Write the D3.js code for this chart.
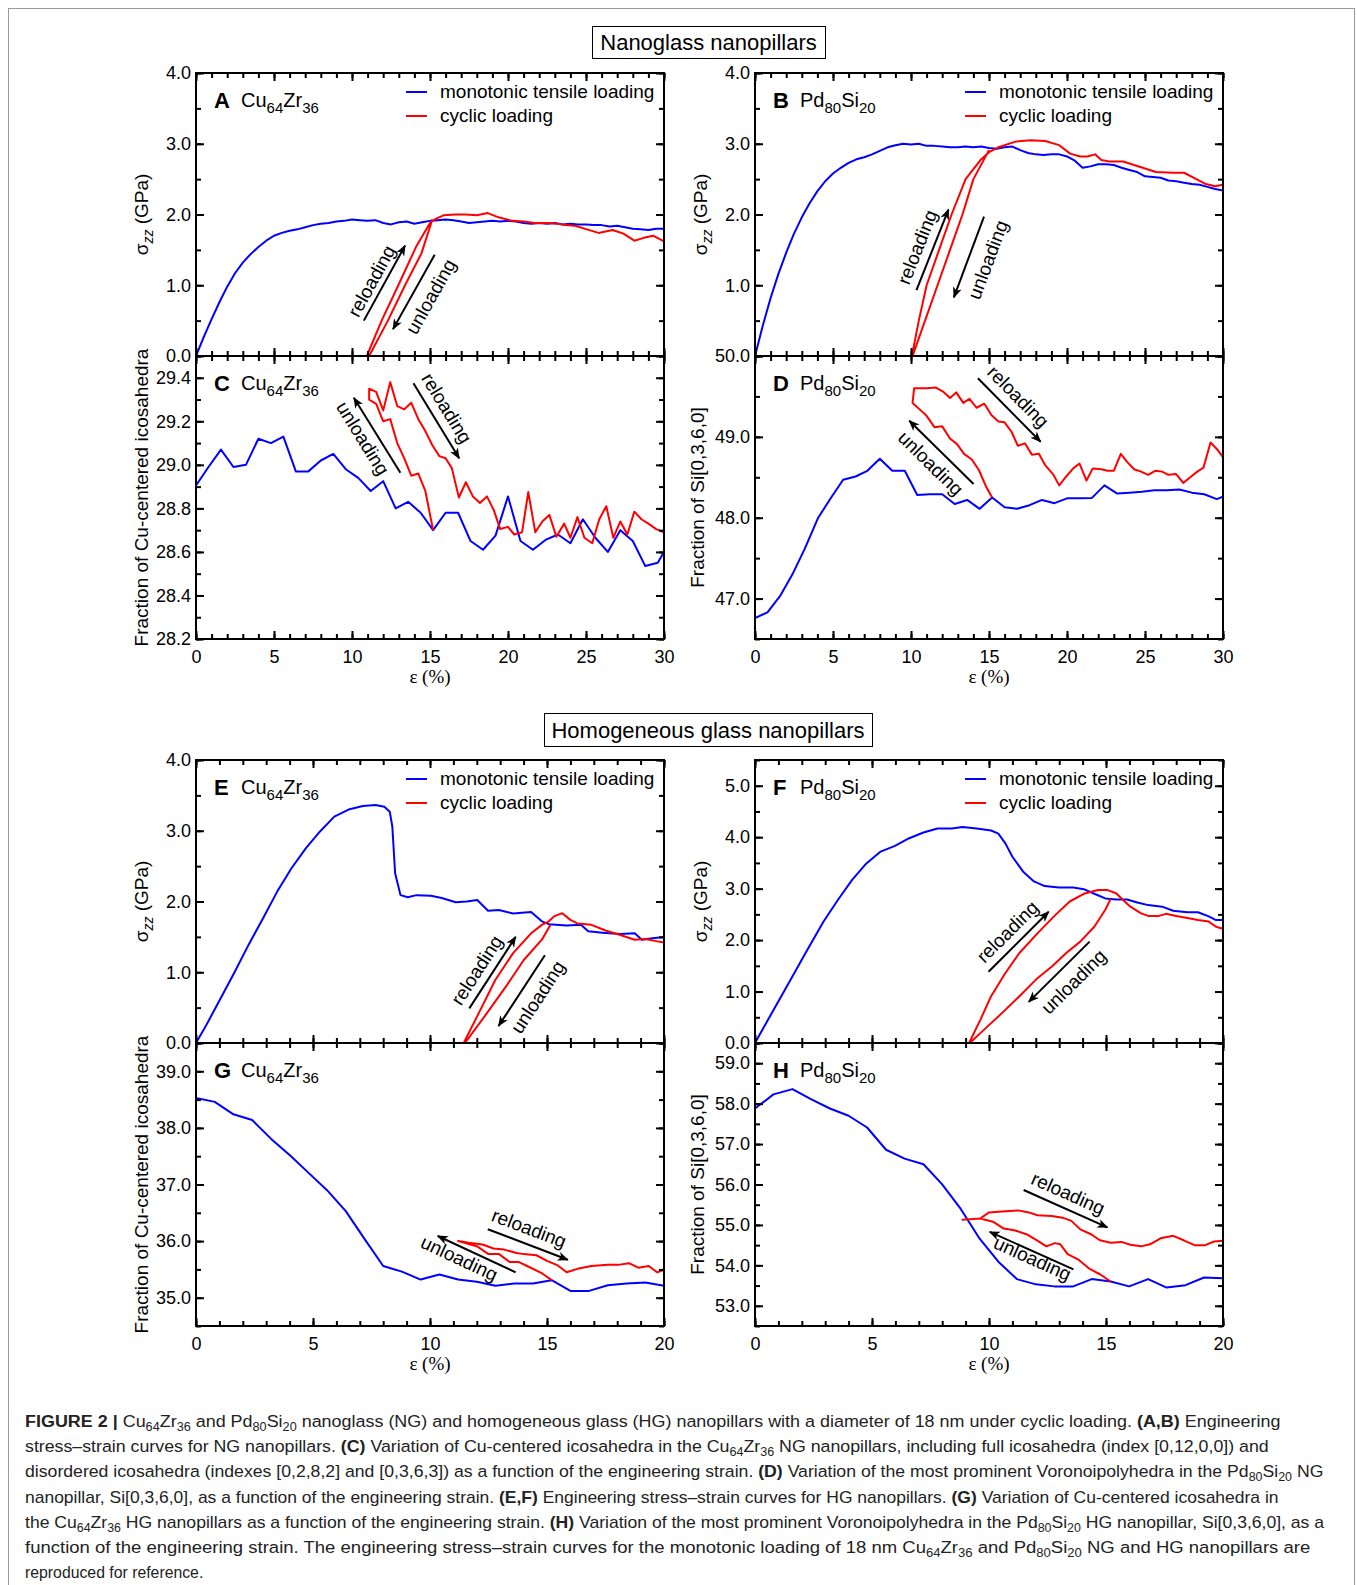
<!DOCTYPE html>
<html>
<head>
<meta charset="utf-8">
<script src="https://cdn.jsdelivr.net/npm/d3@7"></script>
<style>
body { margin: 0; background: #fff; }
svg { display: block; font-family: "Liberation Sans", Arial, sans-serif; }
</style>
</head>
<body>
<svg id="fig" width="1357" height="1585"></svg>
<script>
// ---- tick labels ----
var xTicks30 = [0, 5, 10, 15, 20, 25, 30];
var xTicks20 = [0, 5, 10, 15, 20];
var stressTicks = [0, 1, 2, 3, 4];
var stressTicksF = [0, 1, 2, 3, 4, 5];
var cTicks = [28.2, 28.4, 28.6, 28.8, 29.0, 29.2, 29.4];
var dTicks = [47, 48, 49, 50];
var gTicks = [35, 36, 37, 38, 39];
var hTicks = [53, 54, 55, 56, 57, 58, 59];

// ---- series: [strain %, value] ----
var aMono = [[0,0],[0.5,0.27],[1,0.52],[1.5,0.76],[2,0.98],[2.5,1.17],[3,1.32],[3.5,1.44],[4,1.54],[4.5,1.63],[5,1.70],[5.5,1.74],[6,1.77],[6.5,1.79],[7,1.82],[7.5,1.85],[8,1.87],[8.5,1.88],[9,1.90],[9.5,1.91],[10,1.93],[10.5,1.92],[11,1.91],[11.5,1.92],[12,1.88],[12.5,1.86],[13,1.89],[13.5,1.90],[14,1.87],[14.5,1.89],[15,1.91],[15.5,1.92],[16,1.93],[16.5,1.92],[17,1.90],[17.5,1.88],[18,1.89],[18.5,1.90],[19,1.91],[19.5,1.90],[20,1.91],[20.5,1.90],[21,1.88],[21.5,1.87],[22,1.88],[22.5,1.87],[23,1.88],[23.5,1.86],[24,1.87],[24.5,1.86],[25,1.86],[25.5,1.85],[26,1.85],[26.5,1.83],[27,1.84],[27.5,1.82],[28,1.80],[28.5,1.79],[29,1.78],[29.5,1.80],[30,1.80]];
var aCyclic = [[15.15,1.93],[14.45,1.45],[13.4,1.0],[12.3,0.5],[11.1,0],[10.95,0],[11.9,0.5],[12.97,1.0],[14.1,1.54],[15.0,1.88],[15.3,1.93],[15.9,1.99],[16.6,2.0],[17.3,2.0],[18,1.99],[18.7,2.02],[19.4,1.96],[20.3,1.91],[21,1.90],[21.7,1.88],[22.5,1.88],[23.2,1.87],[23.7,1.85],[24.3,1.84],[24.9,1.80],[25.8,1.74],[26.7,1.78],[27.4,1.73],[28.1,1.63],[28.7,1.67],[29.3,1.70],[30,1.62]];

var bMono = [[0,0],[0.5,0.43],[1,0.82],[1.5,1.16],[2,1.46],[2.5,1.73],[3,1.96],[3.5,2.16],[4,2.33],[4.5,2.47],[5,2.58],[5.5,2.66],[6,2.73],[6.5,2.78],[7,2.81],[7.5,2.85],[8,2.90],[8.5,2.95],[9,2.98],[9.5,3.00],[10,2.99],[10.5,3.00],[11,2.97],[11.5,2.97],[12,2.96],[12.5,2.95],[13,2.95],[13.5,2.96],[14,2.95],[14.5,2.96],[15,2.94],[15.5,2.93],[16,2.95],[16.5,2.96],[17,2.91],[17.5,2.87],[18,2.85],[18.5,2.84],[19,2.85],[19.5,2.85],[20,2.82],[20.5,2.76],[21,2.66],[21.5,2.68],[22,2.71],[22.5,2.71],[23,2.70],[23.5,2.66],[24,2.63],[24.5,2.60],[25,2.54],[25.5,2.53],[26,2.52],[26.5,2.48],[27,2.47],[27.5,2.45],[28,2.43],[28.5,2.42],[29,2.39],[29.5,2.36],[30,2.34]];
var bCyclic = [[15.0,2.91],[14.0,2.50],[13.3,2.0],[12.5,1.5],[11.7,1.0],[10.9,0.5],[10.1,0],[10.06,0],[10.5,0.5],[11.0,1.0],[11.8,1.5],[12.6,2.0],[13.5,2.5],[14.45,2.77],[15.0,2.88],[15.6,2.95],[16.7,3.03],[17.65,3.05],[18.6,3.04],[19.5,2.98],[20.2,2.86],[20.85,2.82],[21.3,2.82],[21.8,2.85],[22.2,2.77],[22.7,2.75],[23.6,2.75],[24.3,2.70],[25,2.65],[25.7,2.60],[26.8,2.59],[27.5,2.59],[28.2,2.51],[28.9,2.43],[29.5,2.40],[30,2.42]];

var cMono = [[0,28.905],[0.8,28.99],[1.6,29.07],[2.4,28.99],[3.2,29.0],[4.0,29.12],[4.8,29.10],[5.6,29.13],[6.4,28.97],[7.2,28.97],[8.0,29.02],[8.8,29.05],[9.6,28.98],[10.4,28.94],[11.2,28.88],[12.0,28.925],[12.8,28.80],[13.6,28.83],[14.4,28.78],[15.2,28.70],[16.0,28.78],[16.8,28.78],[17.6,28.65],[18.4,28.61],[19.2,28.675],[20.0,28.855],[20.8,28.65],[21.6,28.61],[22.4,28.655],[23.2,28.68],[24.0,28.64],[24.8,28.75],[25.6,28.665],[26.4,28.60],[27.2,28.70],[28.0,28.65],[28.8,28.535],[29.6,28.55],[30,28.60]];
var cCyclic = [[15.2,28.70],[14.7,28.88],[14.25,28.96],[13.8,28.95],[13.35,29.03],[12.9,29.10],[12.45,29.21],[12.0,29.20],[11.55,29.28],[11.1,29.30],[11.1,29.35],[11.55,29.335],[12.0,29.25],[12.45,29.38],[12.9,29.27],[13.35,29.255],[13.8,29.285],[14.25,29.21],[14.7,29.155],[15.15,29.09],[15.6,29.04],[16.0,29.03],[16.4,28.985],[16.85,28.85],[17.3,28.92],[17.75,28.855],[18.2,28.825],[18.65,28.855],[19.1,28.79],[19.5,28.705],[20.0,28.715],[20.4,28.68],[20.9,28.69],[21.3,28.875],[21.75,28.69],[22.2,28.74],[22.65,28.77],[23.1,28.67],[23.6,28.73],[24.0,28.665],[24.45,28.76],[24.9,28.665],[25.4,28.64],[25.85,28.75],[26.3,28.81],[26.75,28.665],[27.2,28.74],[27.65,28.68],[28.1,28.785],[28.55,28.75],[29.0,28.73],[29.5,28.705],[30,28.69]];

var dMono = [[0,46.76],[0.8,46.83],[1.6,47.03],[2.4,47.30],[3.2,47.62],[4.05,48.0],[4.85,48.24],[5.65,48.47],[6.45,48.51],[7.2,48.58],[8.0,48.73],[8.8,48.58],[9.6,48.58],[10.4,48.28],[11.2,48.29],[12.0,48.29],[12.8,48.17],[13.6,48.22],[14.4,48.11],[15.2,48.25],[16.0,48.13],[16.8,48.11],[17.6,48.155],[18.4,48.22],[19.2,48.18],[20.0,48.24],[20.8,48.24],[21.6,48.245],[22.4,48.40],[23.2,48.30],[24.0,48.31],[24.8,48.32],[25.6,48.34],[26.4,48.34],[27.2,48.35],[28.0,48.31],[28.8,48.29],[29.6,48.23],[30,48.26]];
var dCyclic = [[15.2,48.25],[14.8,48.39],[14.35,48.59],[13.9,48.72],[13.4,48.79],[12.95,48.91],[12.5,48.98],[12.0,49.13],[11.5,49.12],[11.0,49.26],[10.55,49.34],[10.1,49.42],[10.2,49.60],[11.0,49.60],[11.6,49.61],[12.05,49.56],[12.5,49.48],[12.9,49.55],[13.35,49.42],[13.75,49.47],[14.2,49.36],[14.7,49.41],[15.15,49.27],[15.6,49.19],[16.0,49.18],[16.45,49.06],[16.85,48.89],[17.3,48.92],[17.75,48.78],[18.2,48.79],[18.6,48.65],[19.1,48.54],[19.5,48.40],[19.95,48.51],[20.4,48.61],[20.8,48.67],[21.25,48.46],[21.65,48.61],[22.2,48.60],[22.6,48.58],[23.0,48.58],[23.45,48.79],[23.85,48.69],[24.3,48.60],[24.75,48.57],[25.2,48.53],[25.65,48.58],[26.1,48.57],[26.5,48.53],[27.0,48.54],[27.45,48.43],[27.9,48.50],[28.35,48.57],[28.75,48.62],[29.2,48.93],[29.65,48.84],[30,48.75]];

var eMono = [[0,0],[0.41,0.235],[1.02,0.61],[1.63,0.99],[2.25,1.39],[2.86,1.76],[3.47,2.14],[4.08,2.47],[4.69,2.75],[5.3,2.99],[5.91,3.20],[6.52,3.30],[7.13,3.35],[7.67,3.365],[8.05,3.34],[8.28,3.27],[8.39,3.06],[8.51,2.40],[8.74,2.09],[9.05,2.06],[9.43,2.09],[10.04,2.08],[10.5,2.05],[11.1,1.99],[11.57,2.0],[12.02,2.02],[12.48,1.87],[12.94,1.88],[13.55,1.83],[14.32,1.85],[14.78,1.72],[15.08,1.68],[15.84,1.66],[16.45,1.67],[16.76,1.58],[17.37,1.56],[18.13,1.54],[18.75,1.55],[19.05,1.46],[19.51,1.48],[20,1.50]];
var eCyclic = [[15.15,1.67],[14.78,1.46],[14.0,1.17],[13.25,0.80],[12.34,0.38],[11.49,0],[11.44,0],[12.02,0.38],[12.79,0.89],[13.55,1.27],[14.32,1.55],[14.78,1.67],[15.08,1.72],[15.3,1.79],[15.65,1.835],[16.0,1.74],[16.3,1.69],[16.9,1.67],[17.5,1.59],[18.1,1.53],[18.75,1.46],[19.2,1.47],[19.66,1.44],[20,1.42]];

var fMono = [[0,0],[0.64,0.52],[1.4,1.13],[2.16,1.75],[2.93,2.36],[3.54,2.78],[4.15,3.17],[4.76,3.49],[5.37,3.72],[5.98,3.83],[6.59,3.98],[7.2,4.09],[7.8,4.17],[8.41,4.17],[8.87,4.20],[9.48,4.17],[10.09,4.13],[10.4,4.07],[10.7,3.88],[11.0,3.62],[11.46,3.33],[11.92,3.14],[12.38,3.05],[12.99,3.02],[13.6,3.02],[14.05,2.99],[14.5,2.90],[14.97,2.81],[15.43,2.79],[15.9,2.79],[16.34,2.73],[16.8,2.68],[17.4,2.65],[17.87,2.57],[18.48,2.54],[18.93,2.54],[19.39,2.46],[19.7,2.39],[20,2.39]];
var fCyclic = [[15.2,2.80],[14.97,2.59],[14.5,2.26],[13.9,1.97],[13.3,1.75],[12.7,1.49],[12.07,1.26],[11.3,0.91],[10.55,0.58],[9.79,0.26],[9.18,0],[9.15,0],[9.63,0.45],[10.09,0.91],[10.7,1.36],[11.3,1.75],[12.07,2.13],[12.84,2.49],[13.45,2.75],[14.05,2.90],[14.66,2.975],[15.04,2.975],[15.43,2.91],[15.73,2.78],[16.04,2.65],[16.5,2.52],[16.8,2.47],[17.26,2.47],[17.56,2.51],[18.0,2.47],[18.48,2.43],[18.93,2.39],[19.39,2.36],[19.7,2.26],[20,2.22]];

var gMono = [[0,38.53],[0.8,38.46],[1.6,38.24],[2.4,38.14],[3.2,37.81],[4.0,37.52],[4.8,37.21],[5.6,36.90],[6.4,36.53],[7.2,36.04],[8.0,35.56],[8.8,35.46],[9.6,35.32],[10.4,35.41],[11.2,35.32],[12.0,35.28],[12.8,35.21],[13.6,35.25],[14.4,35.25],[15.2,35.31],[16.0,35.12],[16.8,35.12],[17.6,35.22],[18.4,35.25],[19.2,35.27],[20,35.21]];
var gCyclic = [[15.2,35.31],[14.75,35.44],[14.15,35.56],[13.8,35.63],[13.4,35.63],[12.95,35.77],[12.5,35.77],[12.0,35.91],[11.2,36.0],[11.65,35.97],[12.25,35.94],[12.71,35.87],[13.17,35.85],[13.7,35.79],[14.0,35.77],[14.55,35.75],[15.0,35.65],[15.46,35.57],[15.84,35.45],[16.3,35.51],[16.9,35.56],[17.6,35.58],[18.04,35.58],[18.5,35.61],[18.9,35.53],[19.35,35.56],[19.7,35.45],[20,35.49]];

var hMono = [[0,57.88],[0.79,58.23],[1.6,58.36],[2.39,58.11],[3.2,57.88],[4.0,57.70],[4.79,57.41],[5.6,56.86],[6.39,56.64],[7.2,56.50],[7.99,56.01],[8.8,55.39],[9.6,54.66],[10.4,54.09],[11.19,53.66],[12.0,53.53],[12.79,53.48],[13.6,53.48],[14.39,53.66],[15.2,53.60],[15.99,53.48],[16.8,53.66],[17.59,53.45],[18.4,53.51],[19.19,53.70],[20,53.68]];
var hCyclic = [[15.2,53.60],[14.74,53.78],[14.28,53.92],[13.8,54.15],[13.36,54.28],[13.05,54.52],[12.82,54.55],[12.45,54.47],[12.07,54.61],[11.6,54.77],[11.08,54.87],[10.63,54.91],[10.17,55.08],[9.63,55.16],[8.87,55.13],[9.63,55.16],[10.0,55.31],[10.55,55.33],[11.24,55.36],[11.7,55.31],[12.07,55.24],[12.68,55.22],[13.14,55.18],[13.52,55.10],[13.9,54.89],[14.36,54.77],[14.74,54.62],[15.2,54.56],[15.66,54.58],[16.04,54.51],[16.5,54.47],[16.88,54.52],[17.33,54.67],[17.87,54.73],[18.32,54.62],[18.78,54.50],[19.24,54.50],[19.62,54.59],[20,54.61]];

// ---- arrow notes, in data units ----
var aNotes = [{label: 'reloading', from: [10.76, 0.50], to: [13.4, 1.56], at: [11.26, 1.06]},
              {label: 'unloading', from: [15.3, 1.43], to: [12.63, 0.38], at: [15.05, 0.84]}];
var bNotes = [{label: 'reloading', from: [10.35, 0.93], to: [12.4, 2.07], at: [10.4, 1.54]},
              {label: 'unloading', from: [14.68, 1.97], to: [12.75, 0.83], at: [14.93, 1.36]}];
var cNotes = [{label: 'unloading', from: [13.1, 28.964], to: [10.12, 29.308], at: [10.69, 29.122]},
              {label: 'reloading', from: [13.94, 29.375], to: [16.87, 29.03], at: [16.07, 29.26]}];
var dNotes = [{label: 'reloading', from: [14.29, 49.724], to: [18.31, 48.94], at: [16.87, 49.497]},
              {label: 'unloading', from: [14.01, 48.417], to: [9.89, 49.2], at: [11.26, 48.673]}];
var eNotes = [{label: 'reloading', from: [11.68, 0.49], to: [13.66, 1.50], at: [12.0, 1.03]},
              {label: 'unloading', from: [14.91, 1.24], to: [12.93, 0.24], at: [14.61, 0.65]}];
var fNotes = [{label: 'reloading', from: [9.98, 1.386], to: [12.55, 2.55], at: [10.79, 2.16]},
              {label: 'unloading', from: [14.3, 1.97], to: [11.7, 0.80], at: [13.62, 1.19]}];
var gNotes = [{label: 'reloading', from: [12.47, 36.21], to: [15.89, 35.67], at: [14.23, 36.226]},
              {label: 'unloading', from: [13.66, 35.449], to: [10.33, 36.09], at: [11.25, 35.696]}];
var hNotes = [{label: 'reloading', from: [11.48, 55.864], to: [15.06, 54.94], at: [13.38, 55.78]},
              {label: 'unloading', from: [13.61, 53.90], to: [10.03, 54.83], at: [11.86, 54.17]}];

var captionLines = [
    '**FIGURE 2 |** Cu_{64}Zr_{36} and Pd_{80}Si_{20} nanoglass (NG) and homogeneous glass (HG) nanopillars with a diameter of 18 nm under cyclic loading. **(A,B)** Engineering',
    'stress–strain curves for NG nanopillars. **(C)** Variation of Cu-centered icosahedra in the Cu_{64}Zr_{36} NG nanopillars, including full icosahedra (index [0,12,0,0]) and',
    'disordered icosahedra (indexes [0,2,8,2] and [0,3,6,3]) as a function of the engineering strain. **(D)** Variation of the most prominent Voronoipolyhedra in the Pd_{80}Si_{20} NG',
    'nanopillar, Si[0,3,6,0], as a function of the engineering strain. **(E,F)** Engineering stress–strain curves for HG nanopillars. **(G)** Variation of Cu-centered icosahedra in',
    'the Cu_{64}Zr_{36} HG nanopillars as a function of the engineering strain. **(H)** Variation of the most prominent Voronoipolyhedra in the Pd_{80}Si_{20} HG nanopillar, Si[0,3,6,0], as a',
    'function of the engineering strain. The engineering stress–strain curves for the monotonic loading of 18 nm Cu_{64}Zr_{36} and Pd_{80}Si_{20} NG and HG nanopillars are',
    'reproduced for reference.'
];
var captionWidths = [1256, 1245, 1299, 1254, 1300, 1286, 0];

// ---- layout ----
var W = 468, H = 283;
var SANS = '"Liberation Sans", Arial, sans-serif';

// skipFirst: the lowest y label sits exactly under the "50.0" of the panel below
var panels = [
    {id: 'A', alloy: 'Cu_{64}Zr_{36}', left: 196, top: 73, xMax: 30, xTicks: xTicks30, yDom: [0, 4], yTicks: stressTicks, yMinor: 0.5,
        mono: aMono, cyc: aCyclic, notes: aNotes, legend: true, xLabels: false, yTitle: 'sigma', titleGap: 48},
    {id: 'B', alloy: 'Pd_{80}Si_{20}', left: 755, top: 73, xMax: 30, xTicks: xTicks30, yDom: [0, 4], yTicks: stressTicks, yMinor: 0.5,
        mono: bMono, cyc: bCyclic, notes: bNotes, legend: true, xLabels: false, yTitle: 'sigma', titleGap: 48, skipFirst: true},
    {id: 'C', alloy: 'Cu_{64}Zr_{36}', left: 196, top: 356, xMax: 30, xTicks: xTicks30, yDom: [28.2, 29.5], yTicks: cTicks, yMinor: 0.1,
        mono: cMono, cyc: cCyclic, notes: cNotes, legend: false, xLabels: true, yTitle: 'Fraction of Cu-centered icosahedra', titleGap: 48},
    {id: 'D', alloy: 'Pd_{80}Si_{20}', left: 755, top: 356, xMax: 30, xTicks: xTicks30, yDom: [46.5, 50], yTicks: dTicks, yMinor: 0.5,
        mono: dMono, cyc: dCyclic, notes: dNotes, legend: false, xLabels: true, yTitle: 'Fraction of Si[0,3,6,0]', titleGap: 51},
    {id: 'E', alloy: 'Cu_{64}Zr_{36}', left: 196, top: 760, xMax: 20, xTicks: xTicks20, yDom: [0, 4], yTicks: stressTicks, yMinor: 0.5,
        mono: eMono, cyc: eCyclic, notes: eNotes, legend: true, xLabels: false, yTitle: 'sigma', titleGap: 48},
    {id: 'F', alloy: 'Pd_{80}Si_{20}', left: 755, top: 760, xMax: 20, xTicks: xTicks20, yDom: [0, 5.5], yTicks: stressTicksF, yMinor: 0.5,
        mono: fMono, cyc: fCyclic, notes: fNotes, legend: true, xLabels: false, yTitle: 'sigma', titleGap: 48},
    {id: 'G', alloy: 'Cu_{64}Zr_{36}', left: 196, top: 1043, xMax: 20, xTicks: xTicks20, yDom: [34.5, 39.5], yTicks: gTicks, yMinor: 0.5,
        mono: gMono, cyc: gCyclic, notes: gNotes, legend: false, xLabels: true, yTitle: 'Fraction of Cu-centered icosahedra', titleGap: 48},
    {id: 'H', alloy: 'Pd_{80}Si_{20}', left: 755, top: 1043, xMax: 20, xTicks: xTicks20, yDom: [52.5, 59.5], yTicks: hTicks, yMinor: 0.5,
        mono: hMono, cyc: hCyclic, notes: hNotes, legend: false, xLabels: true, yTitle: 'Fraction of Si[0,3,6,0]', titleGap: 51}
];

var svg = d3.select('#fig');

// text with **bold** and _{sub} pieces
function rich(sel, str, subSize, subDy) {
    var parts = str.split(/(\*\*[^*]+\*\*|_\{[^}]+\})/);
    var shifted = false;
    parts.forEach(function (p) {
        if (!p) return;
        var t = sel.append('tspan');
        if (p.indexOf('**') === 0) {
            t.text(p.slice(2, -2)).attr('font-weight', 'bold');
        } else if (p.indexOf('_{') === 0) {
            t.text(p.slice(2, -1)).attr('font-size', subSize).attr('dy', shifted ? 0 : subDy);
            shifted = true;
            return;
        } else {
            t.text(p);
        }
        if (shifted) {
            t.attr('dy', -subDy);
            shifted = false;
        }
    });
}

// outer frame
svg.append('rect')
    .attr('x', 8.5).attr('y', 8.5)
    .attr('width', 1346).attr('height', 1600)
    .attr('fill', 'none').attr('stroke', '#999').attr('stroke-width', 1);

// arrow marker
svg.append('defs').append('marker')
    .attr('id', 'arrow')
    .attr('viewBox', '-12 -6 14 12')
    .attr('refX', 0).attr('refY', 0)
    .attr('markerWidth', 14).attr('markerHeight', 12)
    .attr('markerUnits', 'userSpaceOnUse')
    .attr('orient', 'auto')
    .append('path')
    .attr('d', 'M1,0 L-10,-4.5 L-7,0 L-10,4.5 Z')
    .attr('fill', '#000');

// section titles
[{text: 'Nanoglass nanopillars', x: 592, y: 26, w: 233, h: 32},
 {text: 'Homogeneous glass nanopillars', x: 544, y: 713, w: 328, h: 33}].forEach(function (b) {
    svg.append('rect')
        .attr('x', b.x + 0.5).attr('y', b.y + 0.5)
        .attr('width', b.w).attr('height', b.h)
        .attr('fill', '#fff').attr('stroke', '#000').attr('stroke-width', 1);
    svg.append('text')
        .attr('x', b.x + b.w / 2).attr('y', b.y + b.h - 8)
        .attr('text-anchor', 'middle')
        .attr('font-size', 22)
        .attr('fill', '#000')
        .text(b.text);
});

function styleAxis(a) {
    a.select('.domain').remove();
    a.selectAll('line').attr('stroke', '#000').attr('stroke-width', 2);
    a.attr('font-size', 18).attr('font-family', SANS);
    a.selectAll('text').attr('fill', '#000');
}

panels.forEach(function (p) {
    var x = d3.scaleLinear().domain([0, p.xMax]).range([0, W]);
    var y = d3.scaleLinear().domain(p.yDom).range([H, 0]);
    var g = svg.append('g').attr('transform', 'translate(' + p.left + ',' + p.top + ')');

    g.append('clipPath').attr('id', 'clip' + p.id)
        .append('rect').attr('width', W).attr('height', H);

    var line = d3.line()
        .x(function (d) { return x(d[0]); })
        .y(function (d) { return y(d[1]); });

    var plot = g.append('g').attr('clip-path', 'url(#clip' + p.id + ')');
    plot.append('path').datum(p.mono)
        .attr('d', line).attr('fill', 'none')
        .attr('stroke', '#0000ff').attr('stroke-width', 2)
        .attr('stroke-linejoin', 'round');
    plot.append('path').datum(p.cyc)
        .attr('d', line).attr('fill', 'none')
        .attr('stroke', '#ff0000').attr('stroke-width', 2)
        .attr('stroke-linejoin', 'round');

    // ticks on all four sides, pointing inward
    var xMinor = d3.range(0, p.xMax + 0.001, 1);
    var yMinor = d3.range(p.yDom[0], p.yDom[1] + 1e-6, p.yMinor);
    var fmt = d3.format('.1f');
    var yFmt = function (d) { return (p.skipFirst && d === p.yDom[0]) ? '' : fmt(d); };

    styleAxis(g.append('g').call(d3.axisLeft(y).tickValues(yMinor).tickSize(-5).tickFormat('')));
    styleAxis(g.append('g').call(d3.axisLeft(y).tickValues(p.yTicks).tickSize(-8).tickPadding(5).tickFormat(yFmt)));
    styleAxis(g.append('g').attr('transform', 'translate(' + W + ',0)')
        .call(d3.axisRight(y).tickValues(yMinor).tickSize(-5).tickFormat('')));
    styleAxis(g.append('g').attr('transform', 'translate(' + W + ',0)')
        .call(d3.axisRight(y).tickValues(p.yTicks).tickSize(-8).tickFormat('')));
    styleAxis(g.append('g').call(d3.axisTop(x).tickValues(xMinor).tickSize(-5).tickFormat('')));
    styleAxis(g.append('g').call(d3.axisTop(x).tickValues(p.xTicks).tickSize(-8).tickFormat('')));
    styleAxis(g.append('g').attr('transform', 'translate(0,' + H + ')')
        .call(d3.axisBottom(x).tickValues(xMinor).tickSize(-5).tickFormat('')));
    styleAxis(g.append('g').attr('transform', 'translate(0,' + H + ')')
        .call(d3.axisBottom(x).tickValues(p.xTicks).tickSize(-8).tickPadding(11)
            .tickFormat(p.xLabels ? d3.format('d') : '')));

    g.append('rect')
        .attr('width', W).attr('height', H)
        .attr('fill', 'none').attr('stroke', '#000').attr('stroke-width', 2);

    // panel letter and alloy
    g.append('text')
        .attr('x', 18).attr('y', 35)
        .attr('font-size', 22).attr('font-weight', 'bold')
        .text(p.id);
    var alloy = g.append('text')
        .attr('x', 45).attr('y', 34)
        .attr('font-size', 20);
    rich(alloy, p.alloy, 15, 6);

    // y title
    var yt = g.append('text')
        .attr('transform', 'translate(' + (-p.titleGap) + ',' + (H / 2) + ') rotate(-90)')
        .attr('text-anchor', 'middle')
        .attr('font-size', 19);
    if (p.yTitle === 'sigma') {
        yt.append('tspan').text('σ');
        yt.append('tspan').text('zz').attr('font-size', 14).attr('font-style', 'italic').attr('dy', 5);
        yt.append('tspan').text(' (GPa)').attr('dy', -5);
    } else {
        yt.text(p.yTitle);
    }

    if (p.xLabels) {
        g.append('text')
            .attr('x', W / 2).attr('y', H + 44)
            .attr('text-anchor', 'middle')
            .attr('font-family', '"Liberation Serif", "Times New Roman", serif')
            .attr('font-size', 19)
            .text('ε (%)');
    }

    if (p.legend) {
        var items = [{name: 'monotonic tensile loading', color: '#0000ff'},
                     {name: 'cyclic loading', color: '#ff0000'}];
        items.forEach(function (it, i) {
            var ly = 19 + i * 24;
            g.append('line')
                .attr('x1', 210).attr('x2', 231)
                .attr('y1', ly).attr('y2', ly)
                .attr('stroke', it.color).attr('stroke-width', 2);
            g.append('text')
                .attr('x', 244).attr('y', ly + 6)
                .attr('font-size', 19)
                .text(it.name);
        });
    }

    // loading / unloading arrows
    p.notes.forEach(function (n) {
        var x0 = x(n.from[0]), y0 = y(n.from[1]);
        var x1 = x(n.to[0]), y1 = y(n.to[1]);
        g.append('line')
            .attr('x1', x0).attr('y1', y0)
            .attr('x2', x1).attr('y2', y1)
            .attr('stroke', '#000').attr('stroke-width', 2)
            .attr('marker-end', 'url(#arrow)');
        var ang = Math.atan2(y1 - y0, x1 - x0) * 180 / Math.PI;
        if (ang > 90) ang -= 180;
        if (ang <= -90) ang += 180;
        g.append('text')
            .attr('transform', 'translate(' + x(n.at[0]) + ',' + y(n.at[1]) + ') rotate(' + ang + ')')
            .attr('text-anchor', 'middle')
            .attr('dominant-baseline', 'central')
            .attr('font-size', 19)
            .text(n.label);
    });
});

// caption
captionLines.forEach(function (s, i) {
    var by = 1427 + i * 25.2;
    var t = svg.append('text')
        .attr('font-size', 17)
        .attr('fill', '#222');
    rich(t, s, 12, 4);
    var w = t.node().getComputedTextLength();
    var sx = captionWidths[i] ? captionWidths[i] / w : 0.93;
    t.attr('transform', 'translate(25,' + by + ') scale(' + sx + ',1)');
});
</script>
</body>
</html>
